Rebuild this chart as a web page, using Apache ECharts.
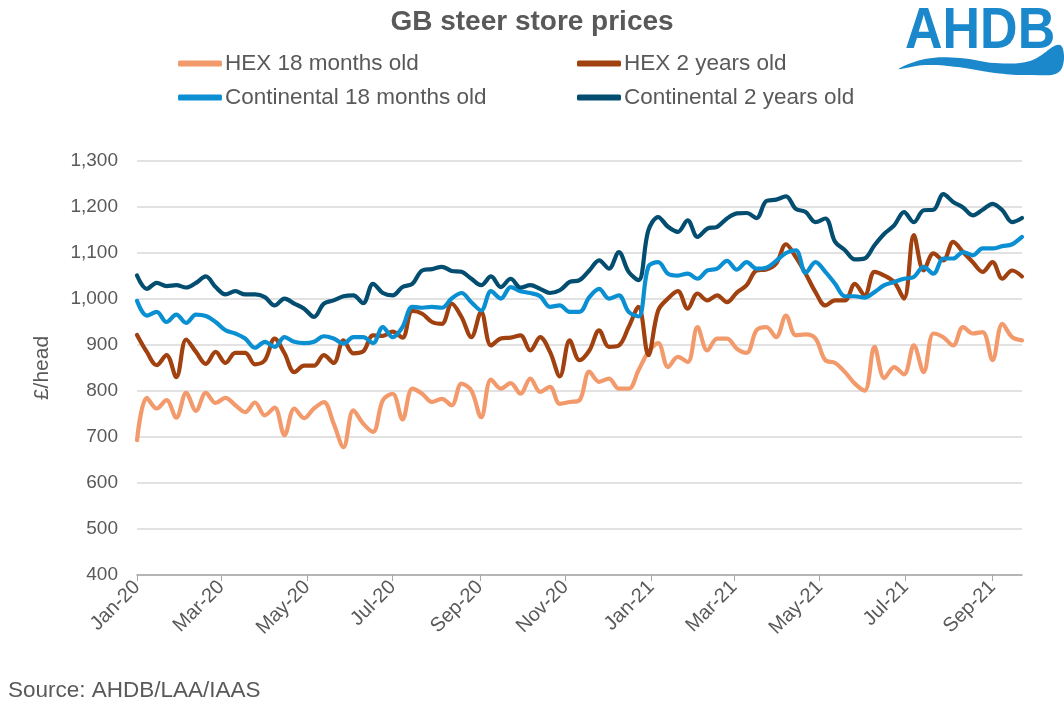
<!DOCTYPE html>
<html>
<head>
<meta charset="utf-8">
<script src="https://cdn.jsdelivr.net/npm/echarts@6/dist/echarts.min.js"></script>
<style>
html,body{margin:0;padding:0;background:#fff;}
#chart{width:1064px;height:709px;}
</style>
</head>
<body>
<div id="chart"></div>
<script>
// Weekly observations from w/c 1 Jan 2020 to 22 Sep 2021
const startDate = Date.UTC(2020, 0, 1);
const weekCount = 91;

const seriesNames = ['HEX 18 months old', 'HEX 2 years old', 'Continental 18 months old', 'Continental 2 years old'];

const hex18 = [693, 785, 762, 780, 742, 796, 757, 796, 774, 785, 769, 754, 775, 747, 764,
  704, 762, 741, 762, 776, 729, 678, 758, 729, 711, 780, 794, 738, 805, 794,
  776, 783, 769, 816, 801, 743, 825, 805, 817, 794, 827, 798, 809, 772, 776,
  780, 842, 820, 827, 805, 805, 845, 885, 904, 852, 874, 863, 939, 888, 914,
  914, 892, 883, 932, 939, 917, 964, 921, 923, 914, 867, 861, 841, 816, 801,
  896, 828, 852, 836, 899, 841, 925, 917, 899, 939, 925, 928, 867, 946, 917, 910];

const hex2 = [922, 885, 856, 878, 830, 912, 885, 859, 885, 861, 883, 883, 858, 867, 914,
  882, 841, 855, 855, 878, 861, 910, 882, 886, 921, 920, 929, 916, 974, 968,
  950, 946, 990, 961, 917, 972, 899, 914, 916, 921, 888, 917, 885, 832, 910,
  867, 888, 932, 896, 899, 939, 983, 878, 975, 1001, 1017, 979, 1012, 997, 1008,
  993, 1014, 1030, 1062, 1064, 1077, 1119, 1091, 1055, 1015, 986, 997, 997, 1033, 1008,
  1059, 1051, 1037, 1001, 1139, 1062, 1099, 1084, 1124, 1102, 1080, 1059, 1080, 1044, 1062, 1049];

const cont18 = [996, 964, 972, 950, 966, 948, 966, 963, 950, 932, 925, 914, 894, 907, 896,
  917, 907, 904, 907, 919, 914, 903, 917, 917, 904, 939, 917, 939, 983, 981,
  983, 981, 1001, 1013, 993, 975, 1017, 1001, 1026, 1017, 1013, 1006, 983, 986, 972,
  972, 1004, 1022, 1001, 1008, 972, 962, 1070, 1080, 1055, 1051, 1055, 1044, 1062, 1066,
  1083, 1064, 1080, 1066, 1068, 1083, 1100, 1106, 1057, 1080, 1059, 1033, 1006, 1006, 1003,
  1015, 1030, 1037, 1044, 1048, 1070, 1055, 1088, 1088, 1102, 1095, 1110, 1110, 1115, 1119, 1135];

const cont2 = [1051, 1022, 1035, 1028, 1030, 1025, 1035, 1049, 1026, 1010, 1017, 1010, 1010, 1004, 986,
  1001, 990, 979, 961, 990, 997, 1006, 1008, 991, 1033, 1013, 1008, 1026, 1033, 1062,
  1065, 1070, 1061, 1059, 1044, 1030, 1049, 1026, 1044, 1025, 1030, 1022, 1013, 1019, 1037,
  1041, 1062, 1084, 1066, 1102, 1059, 1041, 1149, 1178, 1157, 1146, 1171, 1135, 1153, 1157,
  1175, 1186, 1187, 1176, 1213, 1216, 1223, 1196, 1189, 1167, 1175, 1124, 1106, 1086, 1088,
  1117, 1142, 1160, 1189, 1167, 1193, 1194, 1228, 1211, 1199, 1182, 1194, 1207, 1193, 1167, 1176];

// x-axis tick labels (every two months)
const tickMonths = [[2020,0],[2020,2],[2020,4],[2020,6],[2020,8],[2020,10],[2021,0],[2021,2],[2021,4],[2021,6],[2021,8]];
const monthNames = ['Jan','Feb','Mar','Apr','May','Jun','Jul','Aug','Sep','Oct','Nov','Dec'];

const yMin = 400, yMax = 1300, yStep = 100;

const dates = [];
for (let i = 0; i < weekCount; i++) dates.push(startDate + i * 7 * 86400000);
const tickValues = tickMonths.map(function (p) { return Date.UTC(p[0], p[1], 1); });

const colors = ['#F29A6B', '#A0410F', '#0A90D2', '#034D70'];

function pairs(arr) { return arr.map(function (v, i) { return [dates[i], v]; }); }

const chart = echarts.init(document.getElementById('chart'), null, { renderer: 'canvas' });
const txt = '#595959';
const font = '"Liberation Sans", Arial, sans-serif';

const option = {
  animation: false,
  backgroundColor: '#ffffff',
  textStyle: { fontFamily: font },
  title: {
    text: 'GB steer store prices',
    left: 'center',
    top: 3,
    textStyle: { fontFamily: font, fontSize: 28, fontWeight: 'bold', color: txt }
  },
  legend: [
    {
      data: [seriesNames[0], seriesNames[2]],
      orient: 'vertical', left: 173, top: 47, itemGap: 11,
      itemWidth: 44, itemHeight: 6, icon: 'roundRect',
      textStyle: { fontFamily: font, fontSize: 22.5, color: txt, padding: [0, 0, 0, -2] }
    },
    {
      data: [seriesNames[1], seriesNames[3]],
      orient: 'vertical', left: 572, top: 47, itemGap: 11,
      itemWidth: 44, itemHeight: 6, icon: 'roundRect',
      textStyle: { fontFamily: font, fontSize: 22.5, color: txt, padding: [0, 0, 0, -2] }
    }
  ],
  grid: { left: 137, right: 42, top: 161, bottom: 134, containLabel: false },
  xAxis: {
    type: 'value',
    min: dates[0],
    max: dates[dates.length - 1],
    axisLine: { show: true, lineStyle: { color: '#A6A6A6', width: 1.5 } },
    axisTick: { show: true, customValues: tickValues, length: 6, lineStyle: { color: '#A6A6A6' } },
    axisLabel: {
      customValues: tickValues,
      rotate: 45,
      margin: 9,
      fontFamily: font, fontSize: 20, color: txt,
      formatter: function (val) {
        const d = new Date(val);
        return monthNames[d.getUTCMonth()] + '-' + String(d.getUTCFullYear()).slice(2);
      }
    },
    splitLine: { show: false }
  },
  yAxis: {
    type: 'value',
    min: yMin, max: yMax, interval: yStep,
    name: '£/head',
    nameLocation: 'middle',
    nameGap: 84,
    nameTextStyle: { fontFamily: font, fontSize: 21, color: txt },
    axisLine: { show: false },
    axisTick: { show: false },
    axisLabel: {
      margin: 19, fontFamily: font, fontSize: 19, color: txt,
      formatter: function (v) { return v.toLocaleString('en-GB'); }
    },
    splitLine: { lineStyle: { color: '#D9D9D9', width: 1.5 } }
  },
  series: [hex18, hex2, cont18, cont2].map(function (arr, k) {
    return {
      name: seriesNames[k],
      type: 'line',
      data: pairs(arr),
      smooth: 0.35,
      showSymbol: false,
      symbol: 'none',
      color: colors[k],
      lineStyle: { width: 4.2, color: colors[k], cap: 'round', join: 'round' },
      z: 2 + k
    };
  }),
  graphic: [
    {
      type: 'text', x: 905, y: 3, scaleY: 1.12,
      style: { text: 'AHDB', fill: '#1A88CA', font: 'bold 52px "Liberation Sans", Arial, sans-serif' }
    },
    {
      type: 'polygon',
      shape: {
        points: [[899, 69], [925, 59], [960, 58], [995, 63], [1030, 61], [1060, 45], [1060, 71], [1030, 75], [995, 73], [958, 67], [925, 65]],
        smooth: 0.4
      },
      style: { fill: '#1A88CA' }
    },
    {
      type: 'text', x: 8, y: 679,
      style: { text: 'Source: AHDB/LAA/IAAS', fill: txt, font: '22.5px "Liberation Sans", Arial, sans-serif' }
    }
  ]
};
chart.setOption(option);
</script>
</body>
</html>
